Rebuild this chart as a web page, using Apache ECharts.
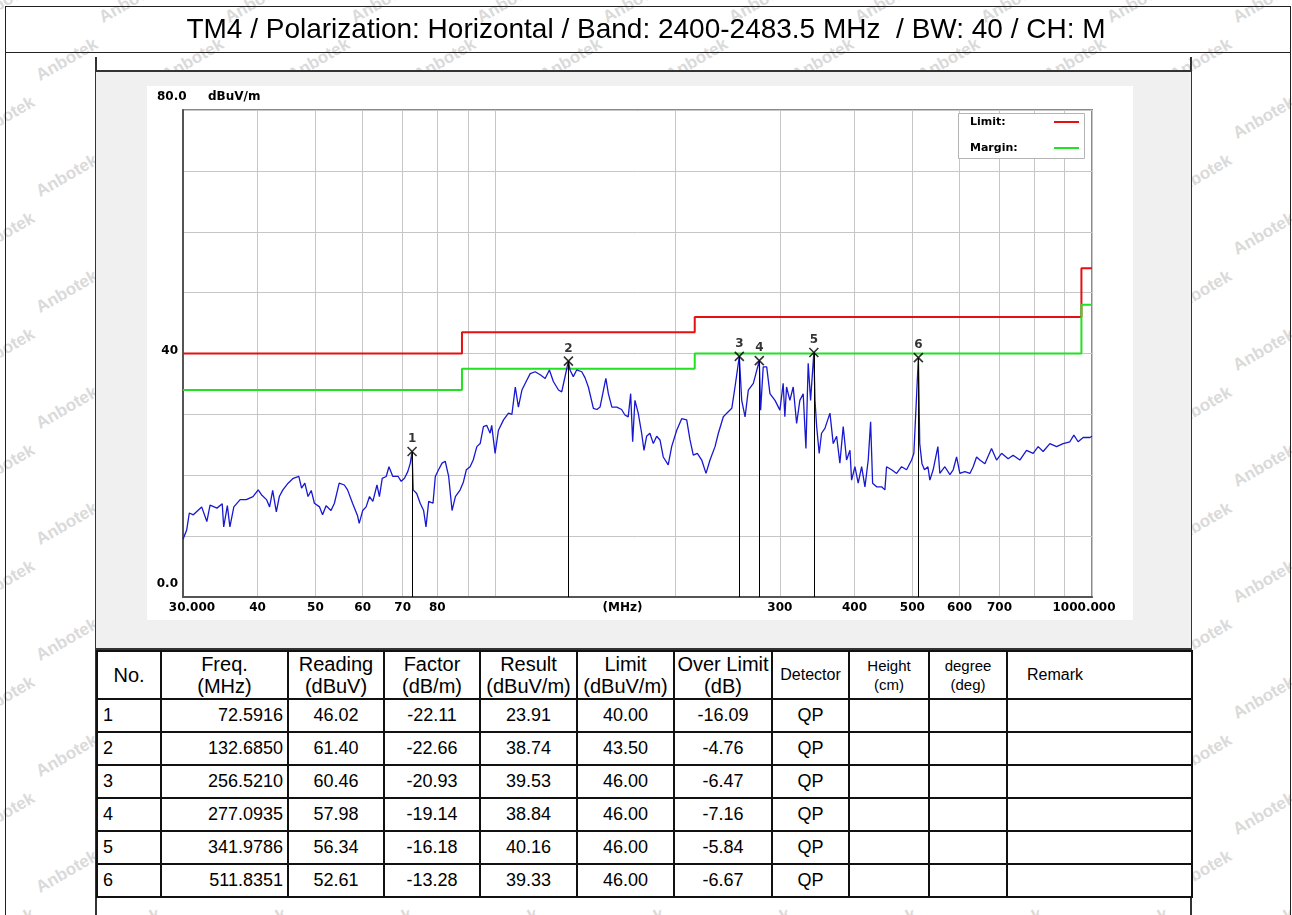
<!DOCTYPE html>
<html>
<head>
<meta charset="UTF-8">
<script src="https://cdn.jsdelivr.net/npm/echarts@6/dist/echarts.min.js"></script>
<style>
	body { margin: 0; width: 1292px; height: 915px; overflow: hidden; background: #fff; position: relative; font-family: "Liberation Sans", Arial, sans-serif; }
	.abs { position: absolute; box-sizing: border-box; }
	#wm span { position: absolute; color: #dadada; font: bold 17px "Liberation Sans", Arial, sans-serif; transform: rotate(-30deg); white-space: nowrap; }
	#frame { left: 5px; top: 6px; width: 1286px; height: 930px; border: 1px solid #222; border-bottom: none; }
	#titleLine { left: 5px; top: 52px; width: 1286px; height: 1px; background: #222; }
	#outer { left: 95px; top: 57px; width: 1097px; height: 900px; border-left: 2px solid #333; border-right: 2px solid #333; }
	#panel { left: 96px; top: 70px; width: 1095px; height: 580px; background: #f0f0f0; border-top: 2px solid #333; border-bottom: 2px solid #333; }
	#white { left: 147px; top: 86px; width: 986px; height: 534px; background: #fff; }
	#chart { left: 0; top: 0; width: 1292px; height: 915px; }
	#tbl { position: absolute; left: 96px; top: 650px; width: 1095px; border-collapse: collapse; table-layout: fixed; background: #fff; color: #000; }
	#tbl td { border: 2px solid #111; padding: 0; height: 31px; font-size: 18px; text-align: center; white-space: nowrap; overflow: hidden; }
	#tbl tr.h td { height: 46px; font-size: 20px; line-height: 22px; }
	#tbl td.no { text-align: left; padding-left: 5px; }
	#tbl td.fq { text-align: right; padding-right: 4px; }
</style>
</head>
<body>
	<div id="wm" class="abs" style="left:0;top:0;width:1292px;height:915px"></div>
	<div id="frame" class="abs"></div>
	<div id="titleLine" class="abs"></div>
	<div id="outer" class="abs"></div>
	<div id="panel" class="abs"></div>
	<div id="white" class="abs"></div>
	<!-- 图表画布覆盖整个页面，坐标即页面像素 -->
	<div id="chart" class="abs"></div>
	<table id="tbl">
		<colgroup>
			<col style="width:64px"><col style="width:127px"><col style="width:96px"><col style="width:96px">
			<col style="width:97px"><col style="width:97px"><col style="width:98px"><col style="width:77px">
			<col style="width:80px"><col style="width:78px"><col style="width:185px">
		</colgroup>
		<tbody id="tbody"></tbody>
	</table>
<script>
	var TITLE = 'TM4 / Polarization: Horizontal / Band: 2400-2483.5 MHz  / BW: 40 / CH: M';

	// 扫描曲线 (MHz, dBuV/m)
	var traceFreq = [
		30.0, 30.43, 30.74, 31.22, 32.24, 32.89, 33.3, 34.2, 34.9, 35.1, 35.6, 35.95, 36.5, 37.4, 38.3, 39.3,
		40.1, 40.6, 41.4, 41.9, 42.4, 43.0, 43.5, 44.1, 45.0, 45.9, 46.9, 47.4, 48.0, 48.6, 49.2, 49.8,
		50.8, 51.4, 52.1, 53.1, 53.8, 54.8, 55.9, 56.6, 57.7, 58.8, 59.2, 60.0, 60.8, 61.6, 62.4, 63.4,
		64.0, 64.7, 65.7, 66.4, 67.4, 68.8, 69.6, 70.5, 71.4, 72.1, 72.59, 72.9, 73.9, 74.9, 75.9, 76.6,
		77.4, 78.7, 79.4, 80.4, 81.5, 82.5, 83.6, 84.7, 85.8, 87.4,
		88.5, 89.5, 90.8, 91.9, 93.2, 94.4, 95.6, 96.8, 98.1, 98.7, 100.0, 101.3, 103.3, 105.3, 106.7, 108.1,
		109.4, 110.9, 113.0, 114.5, 116.7, 119.0, 121.3, 123.3, 125.2, 127.7, 129.3, 130.9, 132.685, 133.5, 135.2, 137.0,
		139.7, 141.5, 143.3, 146.1, 148.1, 149.9, 151.9, 153.3, 154.8, 156.9, 159.9, 162.9, 165.0, 167.1, 168.7, 170.0,
		171.5, 173.7, 176.0, 177.6, 179.4, 181.7, 184.1, 186.5, 188.9, 191.3, 195.0, 197.6, 201.5, 205.4, 209.4, 212.1,
		214.8, 218.2, 221.9, 225.6, 229.1, 233.6, 236.6, 241.2, 244.4, 249.2, 252.3, 256.521, 258.9, 262.3, 265.6, 270.8,
		277.0935, 278.5, 281.3, 285.1, 288.7, 294.4,
		300.0, 303.8, 305.8, 307.8, 311.8, 315.8, 320.0, 324.0, 328.2, 331.7, 334.6, 337.7, 341.9786, 343.5, 345.7, 349.1,
		352.3, 356.9, 363.9, 368.5, 373.4, 378.1, 383.0, 388.0, 393.1, 395.6, 400.7, 405.8, 411.2, 416.5, 421.8, 425.7,
		429.0, 435.6, 444.2, 449.8, 452.7, 461.6, 470.6, 479.7, 489.1, 498.6, 503.0, 511.8351, 514.5, 519.0, 524.0, 531.0,
		535.0, 541.9, 551.8, 556.0, 566.9, 578.0, 585.4, 593.1, 600.7, 612.4, 624.4, 632.3, 640.7, 648.8, 661.5, 678.7,
		692.0, 705.5, 723.6, 737.7, 757.0, 776.8, 796.9, 812.5, 828.2, 850.0, 872.2, 894.5, 918.1, 932.4, 948.0, 966.3,
		991.7, 1000.0
	];
	var traceLevel = [
		9.5, 11.0, 13.8, 13.5, 14.8, 12.4, 15.1, 14.6, 15.3, 11.5, 15.0, 11.5, 14.8, 16.0, 16.0, 16.5,
		17.6, 16.8, 16.0, 14.8, 17.5, 14.0, 16.5, 17.6, 18.7, 19.5, 19.8, 17.9, 18.7, 16.5, 17.5, 15.4,
		14.8, 13.5, 15.0, 14.2, 15.4, 18.7, 18.4, 17.6, 15.4, 13.4, 12.1, 14.2, 14.8, 16.5, 15.7, 18.4,
		16.5, 19.5, 19.8, 21.4, 19.8, 19.8, 19.0, 19.5, 20.6, 22.0, 23.9, 17.6, 17.0, 15.4, 14.2, 11.5,
		15.7, 15.4, 19.8, 20.9, 22.0, 22.3, 19.8, 14.2, 16.5, 17.6,
		18.9, 20.9, 21.4, 22.5, 24.7, 25.2, 28.0, 28.2, 26.9, 28.2, 23.6, 27.4, 29.1, 30.2, 30.0, 34.5,
		31.2, 34.0, 35.6, 36.7, 37.0, 36.5, 35.9, 37.3, 35.4, 34.0, 33.7, 36.1, 38.74, 37.3, 36.2, 37.3,
		37.0, 36.0, 34.5, 31.0, 30.8, 31.2, 34.0, 35.9, 33.4, 31.2, 31.2, 30.8, 29.9, 29.6, 33.4, 25.5,
		32.3, 30.2, 26.9, 24.1, 26.4, 26.9, 25.2, 26.4, 25.8, 23.0, 21.7, 24.7, 27.4, 29.3, 29.1, 25.8,
		23.3, 23.6, 22.5, 20.3, 22.5, 24.7, 26.9, 29.6, 30.2, 31.0, 34.5, 39.53, 32.3, 29.6, 34.0, 35.1,
		38.84, 30.7, 37.8, 37.8, 33.4, 32.3,
		30.7, 35.1, 29.6, 34.5, 32.3, 34.5, 28.5, 32.3, 33.4, 24.4, 38.4, 32.3, 40.16, 32.3, 28.0, 23.6,
		26.9, 27.7, 30.2, 25.2, 26.4, 22.0, 28.0, 22.5, 24.1, 19.2, 21.4, 18.7, 21.4, 18.1, 22.5, 28.8,
		18.7, 18.1, 18.1, 17.6, 21.4, 20.9, 20.3, 21.4, 20.9, 22.5, 23.6, 39.33, 25.2, 21.9, 20.9, 21.4,
		19.2, 20.9, 24.7, 20.3, 21.4, 20.1, 20.9, 23.0, 20.3, 20.6, 20.3, 21.4, 23.0, 22.5, 21.9, 24.4,
		22.5, 23.6, 22.7, 23.3, 22.5, 24.1, 23.6, 24.7, 23.9, 25.2, 24.7, 25.2, 25.5, 26.6, 25.5, 26.2,
		26.2, 26.4
	];

	// 限值线与余量线 (台阶在频点处开始)
	var limitFreq = [30, 88, 216, 960, 1000];
	var limitLevel = [40, 43.5, 46, 54, 54];
	var marginLevel = [34, 37.5, 40, 48, 48];

	// 坐标轴刻度
	var xTicks = [30, 40, 50, 60, 70, 80, 90, 100, 200, 300, 400, 500, 600, 700, 800, 900, 1000];
	var xLabels = [30, 40, 50, 60, 70, 80, 300, 400, 500, 600, 700, 1000];

	// 标记点表格
	var markerNo = [1, 2, 3, 4, 5, 6];
	var markerFreq = [72.5916, 132.6850, 256.5210, 277.0935, 341.9786, 511.8351];
	var markerReading = [46.02, 61.40, 60.46, 57.98, 56.34, 52.61];
	var markerFactor = [-22.11, -22.66, -20.93, -19.14, -16.18, -13.28];
	var markerResult = [23.91, 38.74, 39.53, 38.84, 40.16, 39.33];
	var markerLimit = [40.00, 43.50, 46.00, 46.00, 46.00, 46.00];
	var markerOver = [-16.09, -4.76, -6.47, -7.16, -5.84, -6.67];
	var markerDetector = ['QP', 'QP', 'QP', 'QP', 'QP', 'QP'];

	function lg(f) { return Math.log10(f); }

	// 水印
	(function() {
		var wm = document.getElementById('wm');
		var html = '';
		for (var r = 0; r < 17; r++) {
			for (var c = 0; c < 12; c++) {
				var x = c * 126 + (r % 2) * 63 - 30;
				var y = r * 58 - 8;
				html += '<span style="left:' + x + 'px;top:' + y + 'px">Anbotek</span>';
			}
		}
		wm.innerHTML = html;
	})();

	// 表格
	(function() {
		var head = '<tr class="h"><td>No.</td><td>Freq.<br>(MHz)</td><td>Reading<br>(dBuV)</td><td>Factor<br>(dB/m)</td>'
			+ '<td>Result<br>(dBuV/m)</td><td>Limit<br>(dBuV/m)</td><td>Over Limit<br>(dB)</td>'
			+ '<td style="font-size:16px">Detector</td><td style="font-size:15px;line-height:19px">Height<br>(cm)</td>'
			+ '<td style="font-size:15px;line-height:19px">degree<br>(deg)</td><td style="font-size:16px;text-align:left;padding-left:19px">Remark</td></tr>';
		var rows = '';
		for (var i = 0; i < markerNo.length; i++) {
			rows += '<tr><td class="no">' + markerNo[i] + '</td>'
				+ '<td class="fq">' + markerFreq[i].toFixed(4) + '</td>'
				+ '<td>' + markerReading[i].toFixed(2) + '</td>'
				+ '<td>' + markerFactor[i].toFixed(2) + '</td>'
				+ '<td>' + markerResult[i].toFixed(2) + '</td>'
				+ '<td>' + markerLimit[i].toFixed(2) + '</td>'
				+ '<td>' + markerOver[i].toFixed(2) + '</td>'
				+ '<td>' + markerDetector[i] + '</td>'
				+ '<td></td><td></td><td></td></tr>';
		}
		document.getElementById('tbody').innerHTML = head + rows;
	})();

	var FONT = 'DejaVu Sans';
	var chart = echarts.init(document.getElementById('chart'));

	var option = {
		animation: false,
		title: {
			text: TITLE,
			left: 'center',
			top: 16,
			padding: 0,
			textStyle: { fontFamily: 'Liberation Sans', fontSize: 28, fontWeight: 'normal', color: '#000' }
		},
		grid: {
			left: 183, top: 110, width: 909, height: 487,
			show: true, borderColor: '#8a8a8a', borderWidth: 2, backgroundColor: 'transparent'
		},
		xAxis: {
			type: 'value',
			min: lg(30),
			max: lg(1000),
			name: '(MHz)',
			nameLocation: 'middle',
			nameGap: 5,
			nameMoveOverlap: false,
			nameTextStyle: { fontFamily: FONT, fontWeight: 'bold', fontSize: 12, color: '#000', padding: [0, 30, 0, 0], verticalAlign: 'top' },
			axisLine: { show: true, lineStyle: { color: '#555', width: 2 } },
			axisTick: { show: false, customValues: xTicks.map(lg) },
			splitLine: { show: true, lineStyle: { color: '#c6c6c6', width: 1 } },
			axisLabel: {
				customValues: xLabels.map(lg),
				showMinLabel: true,
				showMaxLabel: true,
				margin: 5,
				fontFamily: FONT, fontWeight: 'bold', fontSize: 12, color: '#000',
				formatter: function(v) {
					var f = Math.round(Math.pow(10, v));
					if (f === 30) return '{a|30.000}';
					if (f === 1000) return '{b|1000.000}';
					return String(f);
				},
				rich: {
					a: { fontFamily: FONT, fontWeight: 'bold', fontSize: 12, color: '#000', padding: [0, 0, 0, 18] },
					b: { fontFamily: FONT, fontWeight: 'bold', fontSize: 12, color: '#000', padding: [0, 16, 0, 0] }
				}
			}
		},
		yAxis: {
			type: 'value',
			min: 0,
			max: 80,
			interval: 10,
			axisLine: { show: true, lineStyle: { color: '#555', width: 2 } },
			axisTick: { show: false },
			splitLine: { show: true, lineStyle: { color: '#c6c6c6', width: 1 } },
			axisLabel: {
				margin: 5,
				fontFamily: FONT, fontWeight: 'bold', fontSize: 12, color: '#000',
				formatter: function(v) {
					if (v === 0) return '{z|0.0}';
					if (v === 40) return '{f|40}';
					return '';
				},
				rich: {
					z: { fontFamily: FONT, fontWeight: 'bold', fontSize: 12, color: '#000', padding: [0, 0, 26, 0] },
					f: { fontFamily: FONT, fontWeight: 'bold', fontSize: 12, color: '#000', padding: [0, 0, 6, 0] }
				}
			}
		},
		graphic: [
			{ type: 'text', z: 100, left: 157, top: 91, style: { text: '80.0', font: 'bold 12px "DejaVu Sans"', fill: '#000' } },
			{ type: 'text', z: 100, left: 208, top: 91, style: { text: 'dBuV/m', font: 'bold 12px "DejaVu Sans"', fill: '#000' } },
			{ type: 'rect', z: 100, shape: { x: 958.5, y: 113.5, width: 126, height: 45 }, style: { fill: '#fff', stroke: '#b4b4b4', lineWidth: 1 } },
			{ type: 'text', z: 101, x: 970, y: 122, style: { text: 'Limit:', font: 'bold 11px "DejaVu Sans"', fill: '#000', verticalAlign: 'middle' } },
			{ type: 'text', z: 101, x: 970, y: 148, style: { text: 'Margin:', font: 'bold 11px "DejaVu Sans"', fill: '#000', verticalAlign: 'middle' } },
			{ type: 'line', z: 101, shape: { x1: 1054, y1: 122, x2: 1079, y2: 122 }, style: { stroke: '#e51010', lineWidth: 2 } },
			{ type: 'line', z: 101, shape: { x1: 1054, y1: 148, x2: 1079, y2: 148 }, style: { stroke: '#22e022', lineWidth: 2 } }
		],
		series: [
			{
				name: 'Limit:',
				type: 'line',
				step: 'end',
				showSymbol: false,
				lineStyle: { color: '#e51010', width: 2 },
				data: limitFreq.map(function(f, i) { return [lg(f), limitLevel[i]]; })
			},
			{
				name: 'Margin:',
				type: 'line',
				step: 'end',
				showSymbol: false,
				lineStyle: { color: '#22e022', width: 2 },
				data: limitFreq.map(function(f, i) { return [lg(f), marginLevel[i]]; })
			},
			{
				name: 'Trace',
				type: 'line',
				showSymbol: false,
				lineStyle: { color: '#1818d0', width: 1.3 },
				data: traceFreq.map(function(f, i) { return [lg(f), traceLevel[i]]; })
			},
			{
				name: 'Markers',
				type: 'scatter',
				symbol: 'path://M0,0L10,10M10,0L0,10',
				symbolSize: 9,
				itemStyle: { color: '#000', borderColor: '#000', borderWidth: 1.6 },
				label: {
					show: true,
					position: 'top',
					distance: 1,
					fontFamily: FONT, fontWeight: 'bold', fontSize: 12, color: '#000',
					formatter: function(p) { return String(markerNo[p.dataIndex]); }
				},
				markLine: {
					silent: true,
					symbol: ['none', 'none'],
					label: { show: false },
					lineStyle: { color: '#000', width: 1, type: 'solid' },
					data: markerFreq.map(function(f, i) {
						return [{ coord: [lg(f), markerResult[i]] }, { coord: [lg(f), 0] }];
					})
				},
				data: markerFreq.map(function(f, i) { return [lg(f), markerResult[i]]; }),
				z: 5
			}
		]
	};
	chart.setOption(option);
</script>
</body>
</html>
